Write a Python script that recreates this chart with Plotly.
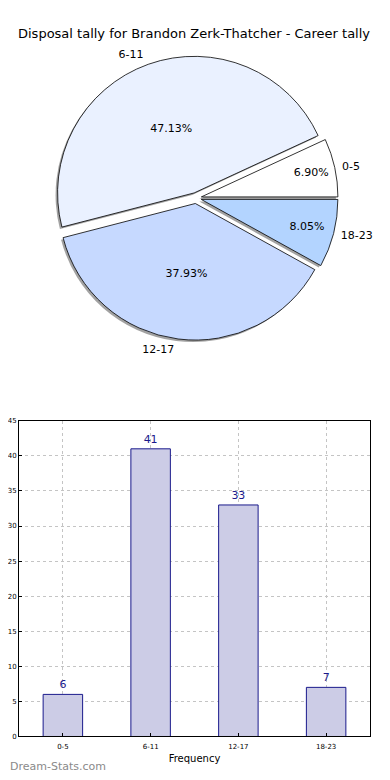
import plotly.graph_objects as go

categories = ["0-5", "6-11", "12-17", "18-23"]
counts = [6, 41, 33, 7]
pie_colors = ["#FFFFFF", "#EAF1FF", "#C6D9FF", "#B3D4FF"]
pulls = [0.04, 0.04, 0.04, 0.04]
y_ticks = [0, 5, 10, 15, 20, 25, 30, 35, 40, 45]

title_text = "Disposal tally for Brandon Zerk-Thatcher - Career tally"
font_family = "DejaVu Sans"

W, H = 390, 780
OFF = 8  # page body margin offset
cx, cy, R = 196 - OFF, 196 - OFF, 138
PULL = max(pulls)

# matplotlib-style start angle: first slice starts at 3 o'clock going counterclockwise
rotation = 90 - 360 * counts[0] / sum(counts)

def dom(x0, x1, y0, y1):
    return dict(x=[x0 / W, x1 / W], y=[1 - y1 / H, 1 - y0 / H])

def square(cxp, cyp, half):
    return dom(cxp - half, cxp + half, cyp - half, cyp + half)

fig = go.Figure()

# shadow
fig.add_trace(go.Pie(
    labels=categories, values=counts, sort=False, direction="counterclockwise",
    rotation=rotation, pull=pulls,
    marker=dict(colors=["rgba(100,100,100,0.6)"] * 4, line=dict(width=0)),
    textinfo="none", hoverinfo="skip", showlegend=False,
    domain=square(cx - 2, cy + 2, R * (1 + PULL)),
))
# main pie with percentages inside
fig.add_trace(go.Pie(
    labels=categories, values=counts, sort=False, direction="counterclockwise",
    rotation=rotation, pull=pulls,
    marker=dict(colors=pie_colors, line=dict(color="black", width=0.8)),
    texttemplate="%{percent:.2%}", textposition="inside", insidetextorientation="horizontal",
    textfont=dict(family=font_family, size=11, color="black"),
    showlegend=False,
    domain=square(cx, cy, R * (1 + PULL)),
))
# outside labels on an invisible larger pie
fig.add_trace(go.Pie(
    labels=categories, values=counts, sort=False, direction="counterclockwise",
    rotation=rotation,
    marker=dict(colors=["rgba(0,0,0,0)"] * 4, line=dict(width=0)),
    texttemplate="%{label}", textposition="outside",
    textfont=dict(family=font_family, size=11, color="black"),
    hoverinfo="skip", showlegend=False,
    domain=square(cx, cy, R * 1.07),
))

fig.add_trace(go.Bar(
    x=categories, y=counts, width=0.45,
    marker=dict(color="#CCCCE6", line=dict(color="#1A1A8C", width=1)),
    text=counts, textposition="outside", cliponaxis=False,
    textfont=dict(family=font_family, size=11, color="#1A1A8C"),
    showlegend=False, xaxis="x", yaxis="y",
))

fig.update_layout(
    width=W, height=H,
    margin=dict(l=0, r=0, t=0, b=0),
    paper_bgcolor="white", plot_bgcolor="white",
    font=dict(family=font_family, color="black"),
    xaxis=dict(
        domain=[(19 - OFF) / W, (370 - OFF) / W], anchor="y", range=[-0.5, 3.5],
        showline=True, linecolor="black", linewidth=1, mirror=True,
        showgrid=True, gridcolor="#C4C4C4", griddash="dot", gridwidth=1,
        ticks="inside", ticklen=3, tickcolor="black",
        tickfont=dict(size=7, family=font_family), ticklabelstandoff=3,
        title=dict(text="Frequency", font=dict(size=10, family=font_family), standoff=5),
        zeroline=False, fixedrange=True,
    ),
    yaxis=dict(
        domain=[1 - (740 - OFF) / H, 1 - (421 - OFF) / H], anchor="x", range=[0, 45],
        tickvals=y_ticks,
        showline=True, linecolor="black", linewidth=1, mirror=True,
        showgrid=True, gridcolor="#C4C4C4", griddash="dot", gridwidth=1,
        ticks="inside", ticklen=3, tickcolor="black",
        tickfont=dict(size=7, family=font_family),
        zeroline=False, fixedrange=True,
    ),
    annotations=[
        dict(text=title_text, x=(194 - OFF) / W, y=1 - (30 - OFF) / H, xref="paper", yref="paper",
             showarrow=False, font=dict(size=13, family=font_family, color="black"),
             xanchor="center", yanchor="middle"),
        dict(text="Dream-Stats.com", x=0, y=1 - (770 - OFF) / H, xref="paper", yref="paper",
             showarrow=False, font=dict(size=11, family=font_family, color="#8A8A8A"),
             xanchor="left", yanchor="middle"),
    ],
)

fig.write_html("out.html")
